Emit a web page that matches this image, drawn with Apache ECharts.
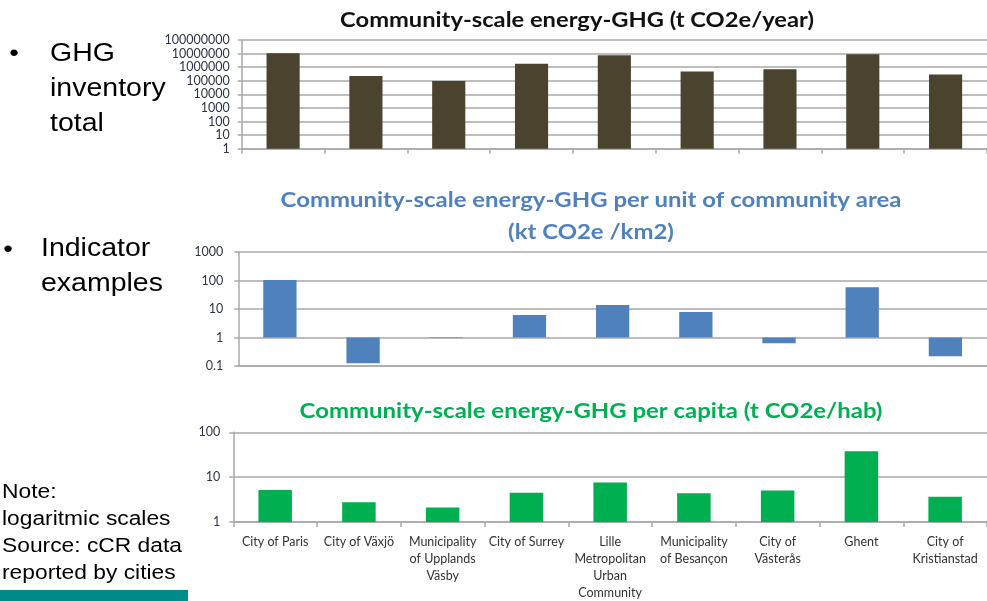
<!DOCTYPE html>
<html>
<head>
<meta charset="utf-8">
<script src="https://cdn.jsdelivr.net/npm/echarts@6/dist/echarts.min.js"></script>
<style>
  html, body { margin: 0; padding: 0; background: #fff; }
  #chart { width: 987px; height: 601px; }
</style>
</head>
<body>
<div id="chart"></div>
<script>
// Cities reporting to the cCR
const cities = [
  'City of Paris', 'City of Växjö', 'Municipality\nof Upplands\nVäsby', 'City of Surrey',
  'Lille\nMetropolitan\nUrban\nCommunity', 'Municipality\nof Besançon', 'City of\nVästerås',
  'Ghent', 'City of\nKristianstad'
];
// Community-scale energy-GHG, t CO2e/year
const totalGhg = [10700000, 220000, 95000, 1800000, 7700000, 490000, 690000, 9100000, 290000];
// per unit of community area, kt CO2e/km2
const ghgPerArea = [105, 0.124, 1.05, 6.2, 13.8, 7.9, 0.63, 58, 0.22];
// per capita, t CO2e/hab
const ghgPerCapita = [5.2, 2.75, 2.1, 4.5, 7.6, 4.35, 5.05, 38, 3.65];

// Log-scale tick labels, one per decade
const totalTicks = ['1', '10', '100', '1000', '10000', '100000', '1000000', '10000000', '100000000'];
const areaTicks = ['0.1', '1', '10', '100', '1000'];
const capitaTicks = ['1', '10', '100'];

const FONT = 'Lato, "Open Sans", sans-serif';
const SANS = '"Liberation Sans", Arial, sans-serif';
const WIDE = 1.14;            // slide text is set slightly wide
const GRID_COLOR = '#a9a9a9';
const LABEL_COLOR = '#2f3448';

function logAxis(gridIndex, min, max, ticks, margin) {
  const minExp = Math.round(Math.log10(min));
  return {
    type: 'log', logBase: 10, gridIndex, min, max, interval: 1,
    axisLine: { show: true, lineStyle: { color: GRID_COLOR, width: 1.5 } },
    axisTick: { show: true, length: 4, lineStyle: { color: GRID_COLOR, width: 1.5 } },
    splitLine: { show: true, lineStyle: { color: GRID_COLOR, width: 1.5 } },
    minorTick: { show: false }, minorSplitLine: { show: false },
    axisLabel: {
      margin, fontFamily: FONT, fontSize: 12.5, color: LABEL_COLOR,
      formatter: v => ticks[Math.round(Math.log10(v)) - minExp] ?? ''
    }
  };
}

function catAxis(gridIndex, showTicks, showLabels) {
  return {
    type: 'category', gridIndex, data: cities, boundaryGap: true,
    axisLine: { show: true, onZero: false, lineStyle: { color: GRID_COLOR, width: 1.5 } },
    axisTick: { show: showTicks, length: 5, lineStyle: { color: GRID_COLOR, width: 1.5 } },
    axisLabel: {
      show: showLabels, interval: 0, margin: 11, fontFamily: FONT, fontSize: 12.5,
      lineHeight: 17, color: '#333', align: 'center'
    }
  };
}

function slideText(x, y, text, font, fill, extra) {
  return Object.assign({ type: 'text', x, y, scaleX: WIDE,
    style: Object.assign({ text, font, fill }, extra) });
}

const chart = echarts.init(document.getElementById('chart'), null, { renderer: 'canvas' });

chart.setOption({
  animation: false,
  backgroundColor: '#fff',
  grid: [
    { left: 241.7, top: 40, width: 750, height: 108.7 },
    { left: 238.3, top: 252, width: 756, height: 114 },
    { left: 233.3, top: 432.3, width: 759, height: 91 }
  ],
  xAxis: [
    catAxis(0, true, false),
    catAxis(1, false, false),
    catAxis(2, true, true)
  ],
  yAxis: [
    logAxis(0, 1, 100000000, totalTicks, 12),
    logAxis(1, 0.1, 1000, areaTicks, 15),
    logAxis(2, 1, 100, capitaTicks, 13)
  ],
  series: [
    { type: 'bar', xAxisIndex: 0, yAxisIndex: 0, data: totalGhg, barWidth: '40%',
      itemStyle: { color: '#4a432e' } },
    { type: 'bar', xAxisIndex: 1, yAxisIndex: 1, data: ghgPerArea, barWidth: '40%',
      itemStyle: { color: '#4f81bd' } },
    { type: 'bar', xAxisIndex: 2, yAxisIndex: 2, data: ghgPerCapita, barWidth: '40%',
      itemStyle: { color: '#00b050' } }
  ],
  graphic: [
    // chart titles
    slideText(577, 20, 'Community-scale energy-GHG (t CO2e/year)', 'bold 20.8px ' + FONT, '#111',
      { align: 'center', verticalAlign: 'middle' }),
    slideText(591, 216, 'Community-scale energy-GHG per unit of community area\n(kt CO2e /km2)',
      'bold 21px ' + FONT, '#4f81bd', { align: 'center', verticalAlign: 'middle', lineHeight: 32 }),
    slideText(591, 411, 'Community-scale energy-GHG per capita (t CO2e/hab)', 'bold 21px ' + FONT, '#00b050',
      { align: 'center', verticalAlign: 'middle' }),
    // slide bullets
    slideText(14, 54, '•', '24px ' + SANS, '#000', { align: 'center', verticalAlign: 'middle' }),
    slideText(50, 36.5, 'GHG\ninventory\ntotal', '25px ' + SANS, '#000', { verticalAlign: 'top', lineHeight: 35 }),
    slideText(8, 250, '•', '24px ' + SANS, '#000', { align: 'center', verticalAlign: 'middle' }),
    slideText(41, 232, 'Indicator\nexamples', '25px ' + SANS, '#000', { verticalAlign: 'top', lineHeight: 35 }),
    // note
    slideText(2, 479, 'Note:\nlogaritmic scales\nSource: cCR data\nreported by cities', '20px ' + SANS, '#000',
      { verticalAlign: 'top', lineHeight: 27 }),
    { type: 'rect', shape: { x: 0, y: 590, width: 188, height: 11 }, style: { fill: '#008b8b' } }
  ]
});
</script>
</body>
</html>
